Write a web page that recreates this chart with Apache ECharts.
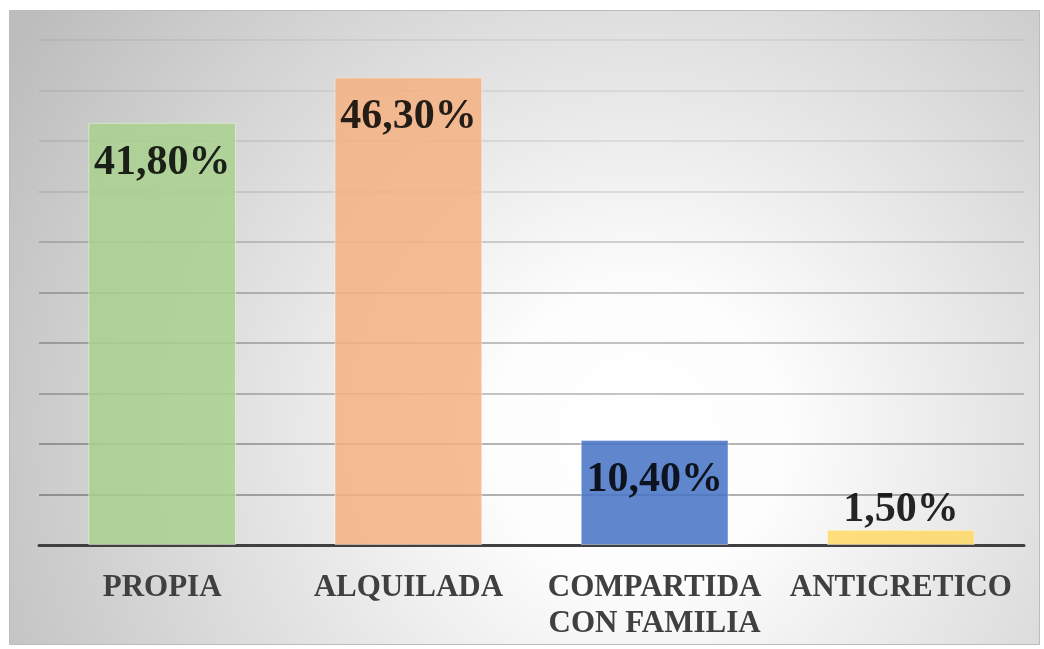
<!DOCTYPE html>
<html>
<head>
<meta charset="utf-8">
<script src="https://cdn.jsdelivr.net/npm/echarts@6/dist/echarts.min.js"></script>
<style>
html,body{margin:0;padding:0;background:#fff;}
#chart{width:1044px;height:649px;}
</style>
</head>
<body>
<div id="chart"></div>
<script>
const categories = ['PROPIA', 'ALQUILADA', 'COMPARTIDA\nCON FAMILIA', 'ANTICRETICO'];
const values = [41.8, 46.3, 10.4, 1.5];
const barColors = ['#a9d18e', '#f4b183', '#4472c4', '#ffd966'];
const labelPositions = ['insideTop', 'insideTop', 'insideTop', 'top'];

const chart = echarts.init(document.getElementById('chart'), null, {renderer: 'canvas'});

const gridColors = ['rgba(0,0,0,0)', 'rgba(0,0,0,0.40)', 'rgba(0,0,0,0.38)', 'rgba(0,0,0,0.30)',
  'rgba(0,0,0,0.32)', 'rgba(0,0,0,0.30)', 'rgba(0,0,0,0.22)', 'rgba(0,0,0,0.12)',
  'rgba(0,0,0,0.10)', 'rgba(0,0,0,0.08)', 'rgba(0,0,0,0.07)'];

const option = {
  animation: false,
  graphic: [{
    type: 'rect',
    z: -10,
    silent: true,
    shape: {x: 9.5, y: 10.5, width: 1030, height: 634},
    style: {
      fill: {
        type: 'radial', x: 0.61, y: 0.67, r: 1.15,
        colorStops: [
          {offset: 0, color: '#ffffff'},
          {offset: 0.2, color: '#fdfdfd'},
          {offset: 1, color: '#bdbdbd'}
        ]
      },
      stroke: '#bcbcbc',
      lineWidth: 1
    }
  }],
  grid: {left: 39, right: 20, top: 40, bottom: 104, containLabel: false},
  xAxis: {
    type: 'category',
    data: categories,
    axisLine: {lineStyle: {color: '#404040', width: 3}},
    axisTick: {show: false},
    axisLabel: {
      interval: 0,
      color: '#404040',
      fontFamily: '"Liberation Serif", "Times New Roman", serif',
      fontWeight: 'bold',
      fontSize: 31,
      lineHeight: 36,
      margin: 25
    }
  },
  yAxis: {
    type: 'value',
    min: 0,
    max: 50,
    interval: 5,
    axisLabel: {show: false},
    axisLine: {show: false},
    axisTick: {show: false},
    splitLine: {lineStyle: {color: gridColors, width: 1.5}}
  },
  series: [{
    type: 'bar',
    barCategoryGap: '40%',
    data: values.map((v, i) => ({
      value: v,
      itemStyle: {color: barColors[i], opacity: 0.85},
      label: {position: labelPositions[i], distance: labelPositions[i] === 'top' ? -1 : 19}
    })),
    itemStyle: {borderColor: 'rgba(255,255,255,0.5)', borderWidth: 1},
    label: {
      show: true,
      color: '#000',
      textBorderWidth: 0,
      textBorderColor: 'transparent',
      fontFamily: '"Liberation Serif", "Times New Roman", serif',
      fontWeight: 'bold',
      fontSize: 42,
      formatter: p => p.value.toFixed(2).replace('.', ',') + '%'
    }
  }]
};
chart.setOption(option);
</script>
</body>
</html>
